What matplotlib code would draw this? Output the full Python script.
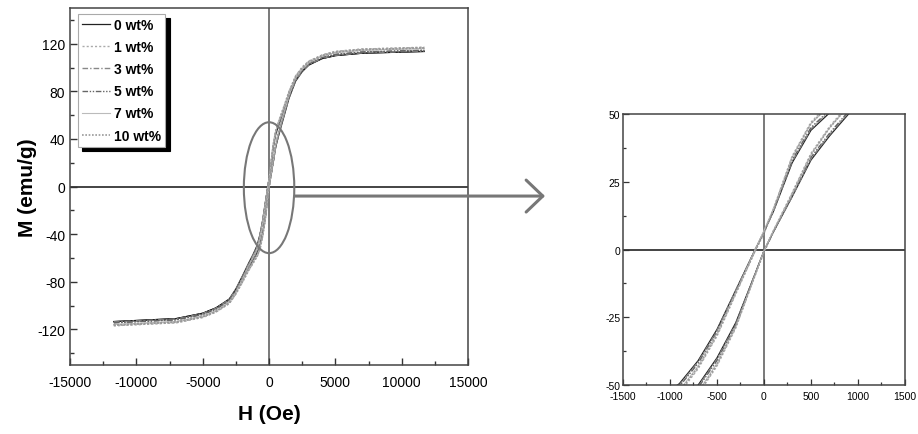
import matplotlib
matplotlib.use('Agg')
import matplotlib.pyplot as plt
from matplotlib.patches import Ellipse
from matplotlib.ticker import MultipleLocator

plt.rcParams['font.family'] = ['Liberation Sans', 'DejaVu Sans']
plt.rcParams['axes.unicode_minus'] = False

# field grid (Oe), shared by every branch
h_grid = [-11700, -7000, -5000, -4000, -3000, -2500, -2000, -1500, -1200, -900,
          -700, -500, -300, -100, 0, 100, 300, 500, 700, 900,
          1200, 1500, 2000, 2500, 3000, 4000, 5000, 7000, 11700]

labels = ['0 wt%', '1 wt%', '3 wt%', '5 wt%', '7 wt%', '10 wt%']

# M (emu/g), descending branch (coming from +H) and ascending branch
m0_down = [-113.5, -111, -106.5, -102, -94.5, -86, -75, -63.5, -57, -49.5, -41, -29.5, -15, -0.5, 6.5,
           14, 32, 44, 50.5, 57, 67, 77, 90, 97.5, 102.5, 107.5, 110, 112, 113.5]
m0_up = [-113.5, -111, -106.5, -102, -95, -87, -77, -67, -61.5, -55.5, -50, -40, -27, -9.5, -0.5,
         6.5, 19.5, 33, 42, 50, 62, 74, 88.5, 96.5, 102, 107.5, 110, 112, 113.5]

m1_down = [-117, -114.5, -110, -105.5, -98, -89.5, -78.5, -66.5, -60, -53, -44, -32, -16.5, -1, 6.5,
           15, 34.5, 47, 54, 60.5, 70, 80, 93, 100.5, 105.5, 110.5, 113.5, 115.5, 117]
m1_up = [-117, -114.5, -110, -105.5, -98.5, -90.5, -80.5, -70, -64.5, -59, -53.5, -43, -29, -10, -0.5,
         7, 21, 35.5, 45.5, 53.5, 65.5, 77.5, 92, 99.5, 105, 110.5, 113.5, 115.5, 117]

m3_down = [-114, -111.5, -107, -102.5, -95, -86.5, -75.5, -64, -57.5, -50, -41.5, -30, -15, -0.5, 6.5,
           14, 32.5, 44.5, 51, 57.5, 67.5, 77.5, 90.5, 98, 103, 108, 110.5, 112.5, 114]
m3_up = [-114, -111.5, -107, -102.5, -95.5, -87.5, -77.5, -67.5, -62, -56, -50.5, -40.5, -27.5, -9.5, -0.5,
         6.5, 19.5, 33.5, 42.5, 50.5, 62.5, 74.5, 89, 97, 102.5, 108, 110.5, 112.5, 114]

m5_down = [-114.5, -112, -107.5, -103, -95.5, -87, -76, -64.5, -58, -50.5, -42, -30.5, -15.5, -0.5, 6.5,
           14.5, 33, 45, 51.5, 58, 68, 78, 91, 98.5, 103.5, 108.5, 111, 113, 114.5]
m5_up = [-114.5, -112, -107.5, -103, -96, -88, -78, -68, -62.5, -56.5, -51, -41, -28, -9.5, -0.5,
         6.5, 20, 34, 43, 51, 63, 75, 89.5, 97.5, 103, 108.5, 111, 113, 114.5]

m7_down = [-116, -113.5, -109, -104.5, -97, -88.5, -77.5, -65.5, -59, -52, -43, -31, -16, -0.5, 7,
           15, 34, 46.5, 53, 59.5, 69, 79, 92, 99.5, 104.5, 109.5, 112.5, 114.5, 116]
m7_up = [-116, -113.5, -109, -104.5, -97.5, -89.5, -79.5, -69, -63.5, -58, -52.5, -42, -28.5, -10, -0.5,
         7, 20.5, 35, 45, 53, 64.5, 76.5, 91, 98.5, 104, 109.5, 112.5, 114.5, 116]

m10_down = [-116.5, -114, -109.5, -105, -97.5, -89, -78, -66, -59.5, -52.5, -43.5, -31.5, -16, -1, 6,
            14.5, 34, 46.5, 53.5, 60, 69.5, 79.5, 92.5, 100, 105, 110, 113, 115, 116.5]
m10_up = [-116.5, -114, -109.5, -105, -98, -90, -80, -69.5, -64, -58.5, -53, -42.5, -28.5, -10, -1,
          6.5, 20.5, 35, 45, 53, 65, 77, 91.5, 99, 104.5, 110, 113, 115, 116.5]

branches = [(m0_down, m0_up), (m1_down, m1_up), (m3_down, m3_up),
            (m5_down, m5_up), (m7_down, m7_up), (m10_down, m10_up)]

styles = [
    dict(color='#222222', lw=0.9, ls='-'),
    dict(color='#aaaaaa', lw=1.0, ls=(0, (1.5, 1.5))),
    dict(color='#888888', lw=1.0, ls=(0, (4, 1.5, 1, 1.5))),
    dict(color='#666666', lw=1.0, ls=(0, (4, 1.2, 1, 1.2, 1, 1.2))),
    dict(color='#bbbbbb', lw=0.8, ls='-'),
    dict(color='#999999', lw=1.2, ls=(0, (1, 1))),
]

fig = plt.figure(figsize=(9.18, 4.35), dpi=100)
ax = fig.add_axes([0.0763, 0.1586, 0.4336, 0.8207])
ax2 = fig.add_axes([0.6786, 0.1126, 0.3072, 0.623])

for a in (ax, ax2):
    a.axhline(0, color='#111111', lw=1.1, zorder=1)
    a.axvline(0, color='#555555', lw=1.1, zorder=1)
    for (down, up), st, lab in zip(branches, styles, labels):
        a.plot(h_grid, down, label=lab, zorder=2, **st)
        a.plot(h_grid, up, zorder=2, **st)
    for s in a.spines.values():
        s.set_color('#444444')
        s.set_linewidth(1.1)

# main loop
ax.set_xlim(-15000, 15000)
ax.set_ylim(-150, 150)
ax.xaxis.set_major_locator(MultipleLocator(5000))
ax.xaxis.set_minor_locator(MultipleLocator(2500))
ax.yaxis.set_major_locator(MultipleLocator(40))
ax.yaxis.set_minor_locator(MultipleLocator(20))
ax.tick_params(which='both', direction='in', colors='#333333', labelcolor='black', labelsize=10)
ax.tick_params(which='major', length=5, width=1)
ax.tick_params(which='minor', length=3, width=1)
ax.tick_params(axis='x', pad=7)
ax.set_xlabel('H (Oe)', fontsize=15, fontweight='bold', labelpad=11)
ax.set_ylabel('M (emu/g)', fontsize=15, fontweight='bold', labelpad=0)

ax.add_patch(Ellipse((0, -1), 3800, 110, fill=False, edgecolor='#777777', lw=1.5, zorder=3))

leg = ax.legend(loc='upper left', bbox_to_anchor=(0.02, 0.983), borderaxespad=0,
                fancybox=False, edgecolor='#aaaaaa', framealpha=1,
                shadow={'color': 'black', 'alpha': 1, 'ox': 3, 'oy': -3},
                prop={'weight': 'bold', 'size': 10}, handlelength=2.0,
                handletextpad=0.3, borderpad=0.3, labelspacing=0.58)
leg.get_frame().set_linewidth(0.8)

# zoomed view
ax2.set_xlim(-1500, 1500)
ax2.set_ylim(-50, 50)
ax2.xaxis.set_major_locator(MultipleLocator(500))
ax2.xaxis.set_minor_locator(MultipleLocator(250))
ax2.yaxis.set_major_locator(MultipleLocator(25))
ax2.yaxis.set_minor_locator(MultipleLocator(12.5))
ax2.tick_params(which='both', direction='in', colors='#333333', labelcolor='black', labelsize=7.5)
ax2.tick_params(which='major', length=4, width=0.9, pad=2)
ax2.tick_params(which='minor', length=2.5, width=0.9)
ax2.tick_params(axis='x', pad=4.5)

# arrow from the ellipse to the zoomed view
ax.annotate('', xy=(0.5937, 0.547), xycoords='figure fraction',
            xytext=(0.3214, 0.547), textcoords='figure fraction',
            arrowprops=dict(arrowstyle='->,head_length=1.2,head_width=1.15',
                            color='#777777', lw=2.2, shrinkA=0, shrinkB=0),
            annotation_clip=False, zorder=5)

fig.savefig('out.png', dpi=100)
